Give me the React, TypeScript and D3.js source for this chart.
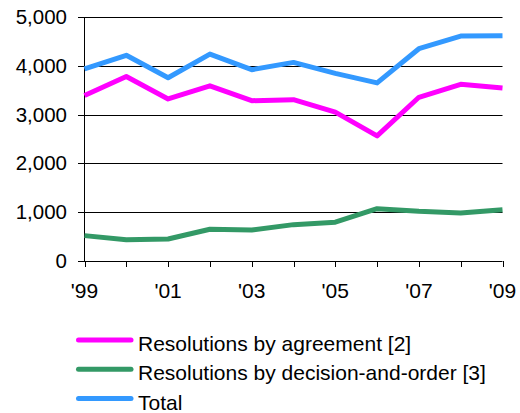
import React from "react";
import * as d3 from "d3";

const years = [1999, 2000, 2001, 2002, 2003, 2004, 2005, 2006, 2007, 2008, 2009];
const yearLabels = ["'99", "'01", "'03", "'05", "'07", "'09"];
const labelYears = [1999, 2001, 2003, 2005, 2007, 2009];
const agreement = [3390, 3780, 3320, 3590, 3285, 3305, 3050, 2565, 3355, 3620, 3545];
const decision = [520, 436, 450, 650, 635, 745, 795, 1072, 1018, 985, 1052];
const total = [3935, 4215, 3755, 4240, 3920, 4070, 3845, 3650, 4350, 4610, 4617];
const yTicks = [0, 1000, 2000, 3000, 4000, 5000];
const seriesNames = ["Resolutions by agreement [2]", "Resolutions by decision-and-order [3]", "Total"];
const seriesColors = ["#FF00FF", "#339966", "#3399FF"];

export default function App() {
  const x = d3.scaleLinear().domain([1999, 2009]).range([84.5, 502.5]);
  const y = d3.scaleLinear().domain([0, 5000]).range([261, 17]);
  const line = d3
    .line<number>()
    .x((_, i) => x(years[i]))
    .y((d) => y(d));
  const series = [agreement, decision, total];
  const font = "'Liberation Sans', Arial, sans-serif";
  return (
    <svg
      width={520}
      height={413}
      style={{ position: "absolute", left: 0, top: 0, background: "#fff" }}
      fontFamily={font}
    >
      {yTicks.map((t) => (
        <g key={t}>
          <line x1={78} x2={502.5} y1={Math.round(y(t)) + 0.5} y2={Math.round(y(t)) + 0.5} stroke="#000" strokeWidth={1} />
          <text x={67} y={y(t) + 7} textAnchor="end" fontSize={20.5} fill="#000">
            {d3.format(",")(t)}
          </text>
        </g>
      ))}
      <line x1={84.5} x2={84.5} y1={17} y2={261} stroke="#000" strokeWidth={1} />
      {years.map((yr) => (
        <line key={yr} x1={Math.round(x(yr)) + 0.5} x2={Math.round(x(yr)) + 0.5} y1={261} y2={267} stroke="#000" strokeWidth={1} />
      ))}
      {labelYears.map((yr, i) => (
        <text key={yr} x={x(yr)} y={298} textAnchor="middle" fontSize={21} fill="#000">
          {yearLabels[i]}
        </text>
      ))}
      {series.map((s, i) => (
        <path key={i} d={line(s) || ""} fill="none" stroke={seriesColors[i]} strokeWidth={5} strokeLinejoin="round" />
      ))}
      {seriesNames.map((n, i) => (
        <g key={n}>
          <line x1={78.5} x2={131} y1={340 + i * 29.3} y2={340 + i * 29.3} stroke={seriesColors[i]} strokeWidth={5} strokeLinecap="round" />
          <text x={138} y={351 + i * 29.3} fontSize={21} fill="#000">
            {n}
          </text>
        </g>
      ))}
    </svg>
  );
}
